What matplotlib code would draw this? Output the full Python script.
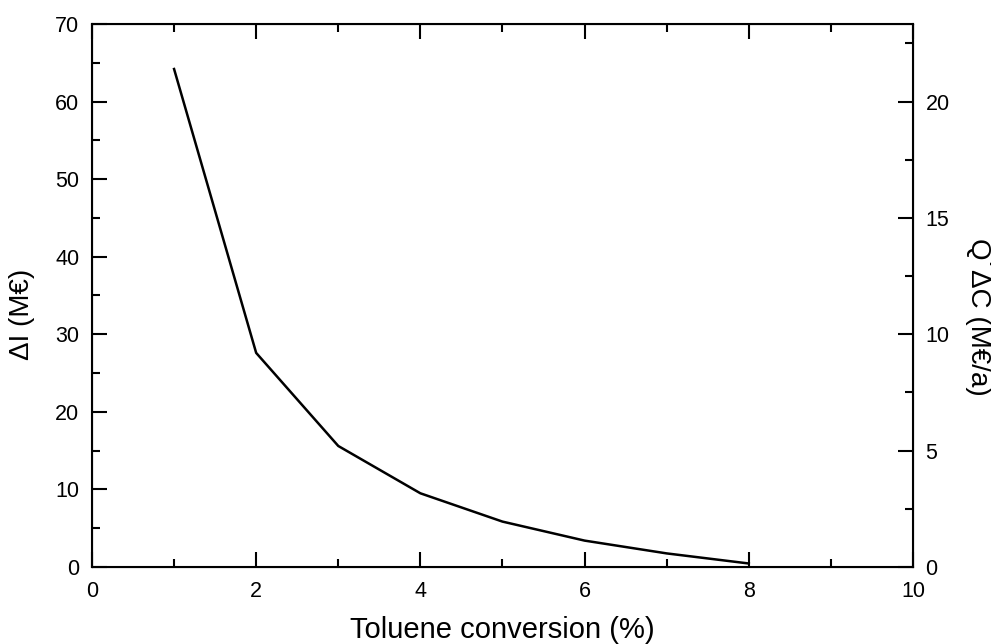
import matplotlib.pyplot as plt
from matplotlib.ticker import MultipleLocator

plt.rcParams['font.family'] = ['Liberation Sans', 'DejaVu Sans']

conversion = [1, 2, 3, 4, 5, 6, 7, 8]
delta_i = [64.2, 27.6, 15.6, 9.5, 5.85, 3.4, 1.75, 0.45]

fig = plt.figure(figsize=(9.91, 6.44), dpi=100)
ax = fig.add_axes([0.0928, 0.1196, 0.8285, 0.8431])

ax.plot(conversion, delta_i, '-', color='k', linewidth=1.8)

ax.set_xlim(0, 10)
ax.set_ylim(0, 70)
ax.xaxis.set_major_locator(MultipleLocator(2))
ax.xaxis.set_minor_locator(MultipleLocator(1))
ax.yaxis.set_major_locator(MultipleLocator(10))
ax.yaxis.set_minor_locator(MultipleLocator(5))
ax.tick_params(which='both', direction='in', top=True, labelsize=15.5, width=1.5)
ax.tick_params(which='major', length=11, pad=10)
ax.tick_params(which='minor', length=6)
ax.tick_params(axis='y', right=False, pad=9)
for s in ax.spines.values():
    s.set_linewidth(1.5)

ax.set_xlabel('Toluene conversion (%)', fontsize=21, labelpad=10)
ax.set_ylabel('\u0394I (M\u20ac)', fontsize=20)
ax.yaxis.set_label_coords(-0.069, 0.465)

ax2 = ax.twinx()
ax2.set_ylim(0, 70 / 3)
ax2.yaxis.set_major_locator(MultipleLocator(5))
ax2.yaxis.set_minor_locator(MultipleLocator(2.5))
ax2.tick_params(which='both', direction='in', labelsize=15.5, width=1.5)
ax2.tick_params(which='major', length=11, pad=9)
ax2.tick_params(which='minor', length=6)
ax2.set_ylabel('Q\u02d9\u0394C (M\u20ac/a)', fontsize=20, rotation=270, va='bottom')
ax2.yaxis.set_label_coords(1.063, 0.46)

fig.savefig('out.png', dpi=100)
